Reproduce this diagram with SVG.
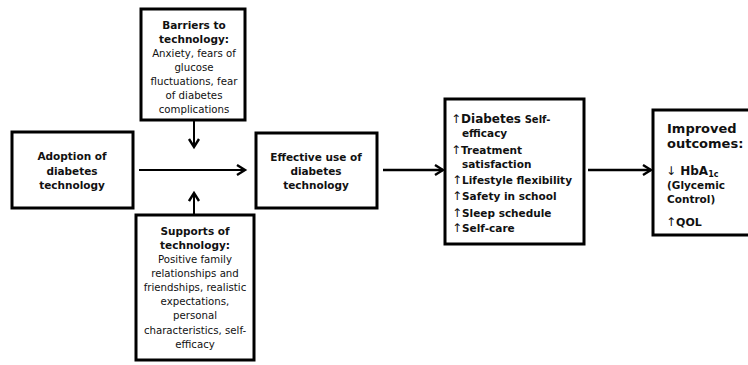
<svg xmlns="http://www.w3.org/2000/svg" width="748" height="365" viewBox="0 0 748 365">
<defs>
<style>
.box{fill:#fff;stroke:#000;stroke-width:3}
.t{font-family:"DejaVu Sans",Verdana,sans-serif;font-size:10.2px;fill:#111}
.b{font-family:"DejaVu Sans",Verdana,sans-serif;font-size:10.5px;font-weight:bold;fill:#111}
.c{text-anchor:middle}
.ln{stroke:#000;fill:none}
.up{font-weight:normal;font-size:12px}
</style>
<marker id="ah" markerUnits="userSpaceOnUse" markerWidth="14" markerHeight="14" refX="9" refY="6" orient="auto">
<path d="M1,1 L9,6 L1,11" fill="none" stroke="#000" stroke-width="2.4"/>
</marker>
</defs>
<rect width="748" height="365" fill="#fff"/>
<g id="barriers">
<rect class="box" x="141" y="9" width="104" height="111"/>
<text class="b c" x="194" y="29">Barriers to</text>
<text class="b c" x="194" y="43">technology:</text>
<text class="t c" x="194" y="57">Anxiety, fears of</text>
<text class="t c" x="194" y="71">glucose</text>
<text class="t c" x="194" y="85">fluctuations, fear</text>
<text class="t c" x="194" y="99">of diabetes</text>
<text class="t c" x="194" y="113">complications</text>
</g>
<g id="supports">
<rect class="box" x="136" y="215" width="118" height="145"/>
<text class="b c" x="195" y="235">Supports of</text>
<text class="b c" x="195" y="249">technology:</text>
<text class="t c" x="195" y="263">Positive family</text>
<text class="t c" x="195" y="277">relationships and</text>
<text class="t c" x="195" y="291">friendships, realistic</text>
<text class="t c" x="195" y="305">expectations,</text>
<text class="t c" x="195" y="319">personal</text>
<text class="t c" x="195" y="334">characteristics, self-</text>
<text class="t c" x="195" y="348">efficacy</text>
</g>
<g id="adoption">
<rect class="box" x="12" y="132" width="121" height="76"/>
<text class="b c" x="72" y="160">Adoption of</text>
<text class="b c" x="72" y="175">diabetes</text>
<text class="b c" x="72" y="189">technology</text>
</g>
<g id="effective">
<rect class="box" x="256" y="133" width="121" height="75"/>
<text class="b c" x="316" y="161">Effective use of</text>
<text class="b c" x="316" y="175">diabetes</text>
<text class="b c" x="316" y="189">technology</text>
</g>
<g id="benefits">
<rect class="box" x="445" y="99" width="139" height="145"/>
<text class="b" x="451" y="123"><tspan class="up">↑</tspan><tspan style="font-size:12px">Diabetes</tspan> <tspan style="font-size:10px">Self-</tspan></text>
<text class="b" x="462" y="137">efficacy</text>
<text class="b" x="451" y="154"><tspan class="up">↑</tspan>Treatment</text>
<text class="b" x="462" y="168">satisfaction</text>
<text class="b" x="452" y="184"><tspan class="up">↑</tspan>Lifestyle flexibility</text>
<text class="b" x="452" y="200"><tspan class="up">↑</tspan>Safety in school</text>
<text class="b" x="452" y="217"><tspan class="up">↑</tspan>Sleep schedule</text>
<text class="b" x="452" y="232"><tspan class="up">↑</tspan>Self-care</text>
</g>
<g id="outcomes">
<rect class="box" x="653" y="110" width="110" height="125"/>
<text class="b" x="667" y="133" style="font-size:13px">Improved</text>
<text class="b" x="667" y="148" style="font-size:13px">outcomes:</text>
<text class="b" x="666" y="175" style="font-size:12px"><tspan class="up">↓</tspan> HbA<tspan style="font-size:8px" dy="2">1c</tspan></text>
<text class="b" x="667" y="189">(Glycemic</text>
<text class="b" x="667" y="203">Control)</text>
<text class="b" x="666" y="226" style="font-size:11px"><tspan class="up">↑</tspan>QOL</text>
</g>
<g id="connectors">
<line class="ln" x1="194" y1="120" x2="194" y2="147" stroke-width="2" marker-end="url(#ah)"/>
<line class="ln" x1="194" y1="215" x2="194" y2="193" stroke-width="2" marker-end="url(#ah)"/>
<line class="ln" x1="139" y1="170" x2="245" y2="170" stroke-width="2" marker-end="url(#ah)"/>
<line class="ln" x1="383" y1="170" x2="443" y2="170" stroke-width="2.6" marker-end="url(#ah)"/>
<line class="ln" x1="588" y1="170" x2="651" y2="170" stroke-width="2.6" marker-end="url(#ah)"/>
</g>
</svg>
